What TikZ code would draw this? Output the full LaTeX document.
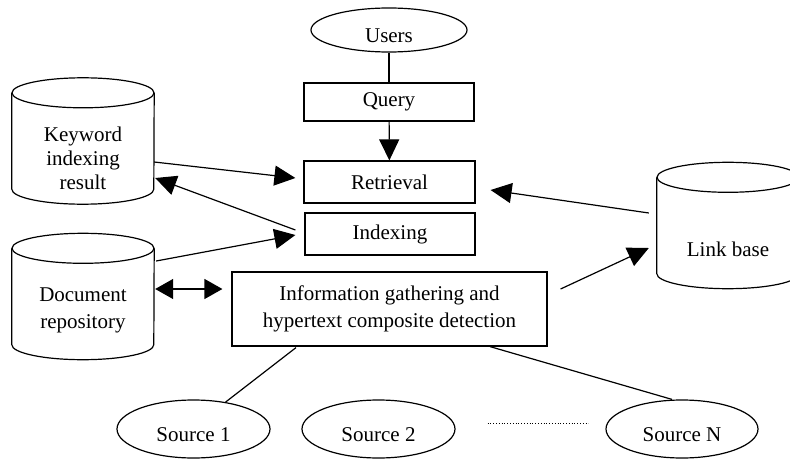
\documentclass[tikz,border=0pt]{standalone}
\usepackage{fontspec}
\setmainfont{Liberation Serif}
\usepackage{tikz}
\usetikzlibrary{arrows.meta,calc,shapes.geometric}
\tikzset{
  box/.style={draw, line width=1.2pt, align=center, inner sep=2pt},
  oval/.style={draw, ellipse, line width=1.2pt, inner sep=0pt, text depth=0pt},
  db/.style={minimum width=142pt, minimum height=126pt, inner sep=0pt},
  dblabel/.style={align=center},
  line/.style={line width=1.2pt},
  arrow/.style={line width=1.2pt, -{Triangle[length=21pt,width=20pt]}},
  twoway/.style={line width=1.2pt, {Triangle[length=18pt,width=20pt]}-{Triangle[length=18pt,width=20pt]}}
}
% cylinder drawn round a db node
\newcommand{\dbshape}[1]{%
  \draw[line] ($(#1.north west)+(0,-15)$) -- ($(#1.south west)+(0,15)$)
    arc[start angle=180, end angle=360, x radius=71, y radius=15]
    -- ($(#1.north east)+(0,-15)$);
  \draw[line] ($(#1.north)+(0,-15)$) ellipse[x radius=71, y radius=15];
}
\begin{document}
\begin{tikzpicture}[x=1pt,y=1pt,font=\fontsize{21}{24}\selectfont]
  \useasboundingbox (0,0) rectangle (790,459);
  % middle column
  \node[oval, minimum width=156pt, minimum height=44pt, text height=26pt] (users) at (389,429) {Users};
  \node[box, minimum width=170pt, minimum height=38pt] (query) at (389,357) {Query};
  \node[box, minimum width=171pt, minimum height=42pt] (retr) at (389.5,277) {Retrieval};
  \node[box, minimum width=170pt, minimum height=42pt] (indx) at (390,225) {Indexing};
  \node[box, minimum width=315pt, minimum height=74pt] (info) at (389.5,150)
    {Information gathering and\\[3pt] hypertext composite detection};
  % stores
  \node[db, label={[dblabel, yshift=-17.5pt]center:Keyword\\indexing\\result}] (kw) at (83,318) {};
  \node[db, label={[dblabel, yshift=-14pt]center:Document\\[3pt] repository}] (doc) at (83,162.5) {};
  \node[db, label={[dblabel, yshift=-23.5pt]center:Link base}] (link) at (728,233.5) {};
  \dbshape{kw}
  \dbshape{doc}
  \dbshape{link}
  % sources
  \node[oval, minimum width=153pt, minimum height=58pt, text height=24pt] (src1) at (193.5,30) {Source 1};
  \node[oval, minimum width=153pt, minimum height=58pt, text height=24pt] (src2) at (378.5,30) {Source 2};
  \node[oval, minimum width=152pt, minimum height=58pt, text height=24pt] (srcn) at (682,30) {Source N};
  \draw[dotted, line width=0.8pt] ($(src2.east)+(32,6)$) -- ($(srcn.west)+(-17,6)$);

  \draw[line] (users) -- (query);
  \draw[arrow] (query) -- (retr);
  \draw[arrow] ($(kw.east)+(0,-21)$) -- ($(retr.west)+(-8,4)$);
  \draw[arrow] ($(indx.west)+(-9,4)$) -- ($(kw.east)+(1,-37)$);
  \draw[arrow] ($(doc.east)+(2,35.5)$) -- ($(indx.west)+(-9,-1)$);
  \draw[twoway] ($(doc.east)+(1,7.5)$) -- ($(info.west)+(-9,20)$);
  \draw[arrow] ($(link.west)+(-8,12.5)$) -- ($(retr.east)+(15,-8)$);
  \draw[arrow] ($(info.east)+(13,20)$) -- ($(link.west)+(-8,-22.5)$);
  \draw[line] ($(info.south)+(-93.5,-1)$) -- (src1.40);
  \draw[line] ($(info.south)+(-4.5,0)$) -- ($(info.south)+(-4.5,0)$ |- src2.north);
  \draw[line] ($(info.south)+(100.5,0)$) -- ($(srcn.north)+(-10,0)$);
\end{tikzpicture}
\end{document}
